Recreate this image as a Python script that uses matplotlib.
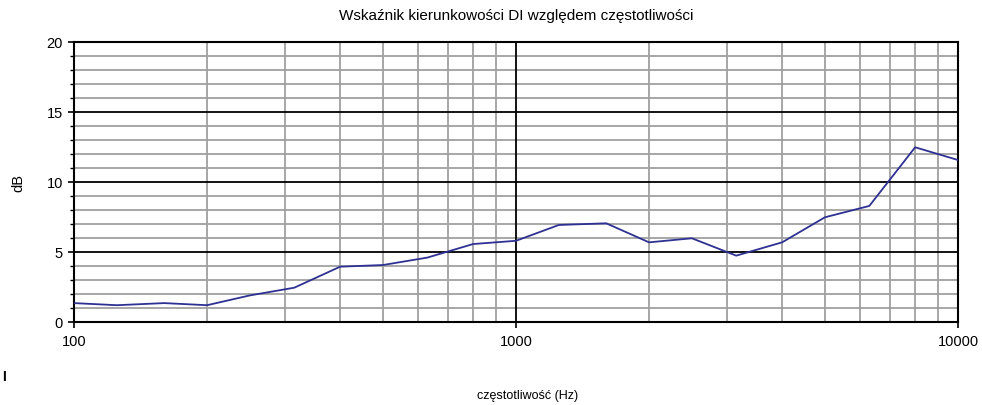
import matplotlib
matplotlib.use("Agg")
import matplotlib.pyplot as plt
from matplotlib.ticker import FixedLocator, NullFormatter

plt.rcParams['font.family'] = ['Liberation Sans', 'DejaVu Sans']

freqs = [100, 125, 160, 200, 250, 315, 400, 500, 630, 800, 1000, 1250, 1600,
         2000, 2500, 3150, 4000, 5000, 6300, 8000, 10000]
di_db = [1.35, 1.2, 1.35, 1.2, 1.9, 2.45, 3.95, 4.07, 4.6, 5.57, 5.8, 6.93, 7.05,
         5.69, 5.98, 4.74, 5.69, 7.48, 8.29, 12.48, 11.57]
x_major = [100, 1000, 10000]
x_labels = ["100", "1000", "10000"]
y_major = [0, 5, 10, 15, 20]

fig = plt.figure(figsize=(9.82, 4.06), dpi=100)
ax = fig.add_axes([74/982, 1-323/406, (958-74)/982, (323-43)/406])

ax.set_xscale('log')
ax.set_xlim(100, 10000)
ax.set_ylim(0, 20)

ax.xaxis.set_major_locator(FixedLocator(x_major))
ax.set_xticklabels(x_labels)
minor_x = [m * d for d in (100, 1000) for m in range(2, 10)]
ax.xaxis.set_minor_locator(FixedLocator(minor_x))
ax.xaxis.set_minor_formatter(NullFormatter())
ax.yaxis.set_major_locator(FixedLocator(y_major))
ax.yaxis.set_minor_locator(FixedLocator([v for v in range(0, 21) if v % 5]))

ax.grid(which='minor', color='#a0a0a0', linewidth=1.3)
ax.set_axisbelow(True)
for xv in x_major:
    ax.axvline(xv, color='black', linewidth=1.3, zorder=1.2)
for yv in y_major:
    ax.axhline(yv, color='black', linewidth=1.3, zorder=1.2)

ax.plot(freqs, di_db, color='#2e3192', linewidth=1.3, zorder=3)

for s in ax.spines.values():
    s.set_linewidth(1.5)
    s.set_color('black')

ax.tick_params(axis='both', which='major', labelsize=10.5, length=4, width=1.2, direction='out', pad=5)
ax.tick_params(axis='y', which='major', pad=4)
ax.tick_params(axis='y', which='minor', length=3, width=1.0, direction='out')
ax.tick_params(axis='x', which='minor', length=0)

fig.text(516/982, 1 - 16/406, "Wskaźnik kierunkowości DI względem częstotliwości",
         ha='center', va='center', fontsize=11)
fig.text(18/982, 1 - 183/406, "dB", rotation=90, ha='center', va='center', fontsize=10.5)
fig.text(528/982, 1 - 396/406, "częstotliwość (Hz)", ha='center', va='center', fontsize=9)
fig.text(4/982, 1 - 377/406, "I", ha='center', va='center', fontsize=10, fontweight='bold')

fig.savefig("out.png", dpi=100)
